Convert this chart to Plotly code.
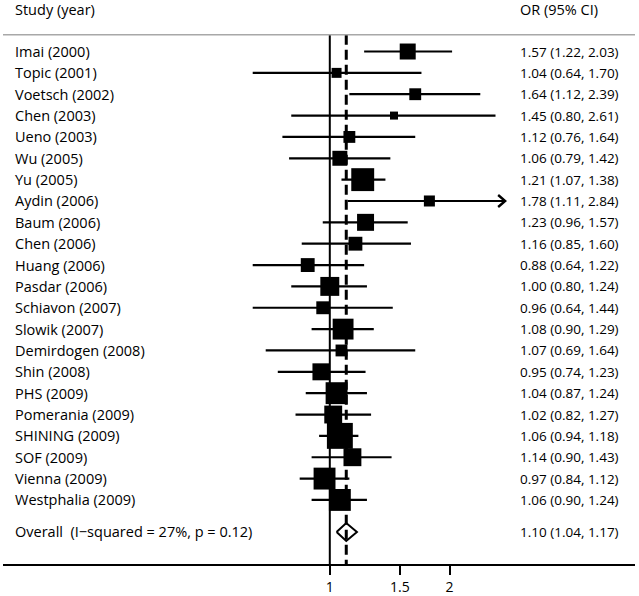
import math
import plotly.graph_objects as go

# ---------------- data ----------------
studies = ["Imai (2000)", "Topic (2001)", "Voetsch (2002)", "Chen (2003)", "Ueno (2003)",
           "Wu (2005)", "Yu (2005)", "Aydin (2006)", "Baum (2006)", "Chen (2006)",
           "Huang (2006)", "Pasdar (2006)", "Schiavon (2007)", "Slowik (2007)",
           "Demirdogen (2008)", "Shin (2008)", "PHS (2009)", "Pomerania (2009)",
           "SHINING (2009)", "SOF (2009)", "Vienna (2009)", "Westphalia (2009)"]
or_vals = [1.57, 1.04, 1.64, 1.45, 1.12, 1.06, 1.21, 1.78, 1.23, 1.16, 0.88,
           1.00, 0.96, 1.08, 1.07, 0.95, 1.04, 1.02, 1.06, 1.14, 0.97, 1.06]
ci_low = [1.22, 0.64, 1.12, 0.80, 0.76, 0.79, 1.07, 1.11, 0.96, 0.85, 0.64,
          0.80, 0.64, 0.90, 0.69, 0.74, 0.87, 0.82, 0.94, 0.90, 0.84, 0.90]
ci_high = [2.03, 1.70, 2.39, 2.61, 1.64, 1.42, 1.38, 2.84, 1.57, 1.60, 1.22,
           1.24, 1.44, 1.29, 1.64, 1.23, 1.24, 1.27, 1.18, 1.43, 1.12, 1.24]
# approximate study weights (%) read from square areas
weights = [4.0, 1.55, 2.2, 1.0, 2.2, 3.5, 8.2, 1.9, 4.5, 3.0, 3.0,
           5.6, 2.6, 6.8, 2.2, 4.5, 7.5, 5.0, 10.5, 5.0, 7.5, 7.5]
overall_label = "Overall\u00a0\u00a0(I\u2212squared = 27%, p = 0.12)"
overall_or, overall_low, overall_high = 1.10, 1.04, 1.17
tick_vals = [1, 1.5, 2]
tick_text = ["1", "1.5", "2"]

# ---------------- styling constants ----------------
X_CLIP = 2.76           # display limit for long CIs (arrow drawn beyond)
SIZE_K = 8.0            # square side (px) per sqrt(weight)
LABEL_FONT = dict(family="Open Sans", size=14.5, color="black")
NUM_FONT = dict(family="Open Sans", size=13.5, color="black")
TICK_FONT = dict(family="Open Sans", size=14, color="black")
PX_PER_LOG10 = 397.7
PX_PER_ROW = 21.43

n = len(studies)
rows = list(range(n))
overall_y = n + 0.5
top_y = -0.78
bottom_y = 24.0

fig = go.Figure()

# CI lines
xs, ys = [], []
for i in rows:
    xs += [ci_low[i], min(ci_high[i], X_CLIP), None]
    ys += [i, i, None]
fig.add_trace(go.Scatter(x=xs, y=ys, mode="lines", line=dict(color="black", width=2.2),
                         hoverinfo="skip", showlegend=False))

# arrow heads for clipped CIs
ax_, ay_ = [], []
back = 10 ** (-7 / PX_PER_LOG10)
dy = 6 / PX_PER_ROW
for i in rows:
    if ci_high[i] > X_CLIP:
        ax_ += [X_CLIP * back, X_CLIP, X_CLIP * back, None]
        ay_ += [i - dy, i, i + dy, None]
fig.add_trace(go.Scatter(x=ax_, y=ay_, mode="lines", line=dict(color="black", width=2.4),
                         hoverinfo="skip", showlegend=False))

# weighted squares
fig.add_trace(go.Scatter(x=or_vals, y=rows, mode="markers",
                         marker=dict(symbol="square", color="black", opacity=1,
                                     size=[SIZE_K * math.sqrt(w) for w in weights],
                                     line=dict(width=0)),
                         hoverinfo="skip", showlegend=False))

# vertical reference lines
fig.add_trace(go.Scatter(x=[1, 1], y=[top_y, bottom_y], mode="lines",
                         line=dict(color="black", width=2), hoverinfo="skip", showlegend=False))
fig.add_trace(go.Scatter(x=[overall_or, overall_or], y=[top_y, bottom_y], mode="lines",
                         line=dict(color="black", width=3, dash="10px,5px"),
                         hoverinfo="skip", showlegend=False))

# overall diamond
h = 9 / PX_PER_ROW
fig.add_trace(go.Scatter(x=[overall_low, overall_or, overall_high, overall_or, overall_low],
                         y=[overall_y, overall_y - h, overall_y, overall_y + h, overall_y],
                         mode="lines", fill="toself", fillcolor="rgba(255,255,255,0)",
                         line=dict(color="black", width=2), hoverinfo="skip", showlegend=False))

# header line
fig.add_shape(type="line", xref="paper", yref="y", x0=0, x1=1, y0=top_y, y1=top_y,
              line=dict(color="#a8a8a8", width=1.5))

LABEL_X = (13 - 3) / 632
OR_X = (518 - 3) / 632
annotations = []
head_y = -1.95
annotations.append(dict(x=LABEL_X, y=head_y, text="Study (year)", font=LABEL_FONT))
annotations.append(dict(x=OR_X, y=head_y, text="OR (95% CI)", font=LABEL_FONT))
for i in rows:
    annotations.append(dict(x=LABEL_X, y=i, text=studies[i], font=LABEL_FONT))
    annotations.append(dict(x=OR_X, y=i, font=NUM_FONT,
                            text=f"{or_vals[i]:.2f} ({ci_low[i]:.2f}, {ci_high[i]:.2f})"))
annotations.append(dict(x=LABEL_X, y=overall_y, text=overall_label, font=LABEL_FONT))
annotations.append(dict(x=OR_X, y=overall_y, font=NUM_FONT,
                        text=f"{overall_or:.2f} ({overall_low:.2f}, {overall_high:.2f})"))
for a in annotations:
    a.update(xref="paper", yref="y", xanchor="left", yanchor="middle", showarrow=False)
fig.update_layout(annotations=annotations)

fig.update_layout(
    width=639, height=596,
    margin=dict(l=3, r=4, t=0, b=30),
    paper_bgcolor="white", plot_bgcolor="white",
    xaxis=dict(type="log", range=[-0.8217, 0.7674], tickvals=tick_vals, ticktext=tick_text,
               ticks="outside", ticklen=9, tickwidth=1.5, tickcolor="black",
               showline=True, linecolor="black", linewidth=1.5,
               showgrid=False, zeroline=False, tickfont=TICK_FONT, fixedrange=True),
    yaxis=dict(range=[bottom_y, top_y - 1.6325], visible=False, fixedrange=True),
)

fig.write_html("out.html", config={"displayModeBar": False},
               post_script="document.body.style.margin='0';")
